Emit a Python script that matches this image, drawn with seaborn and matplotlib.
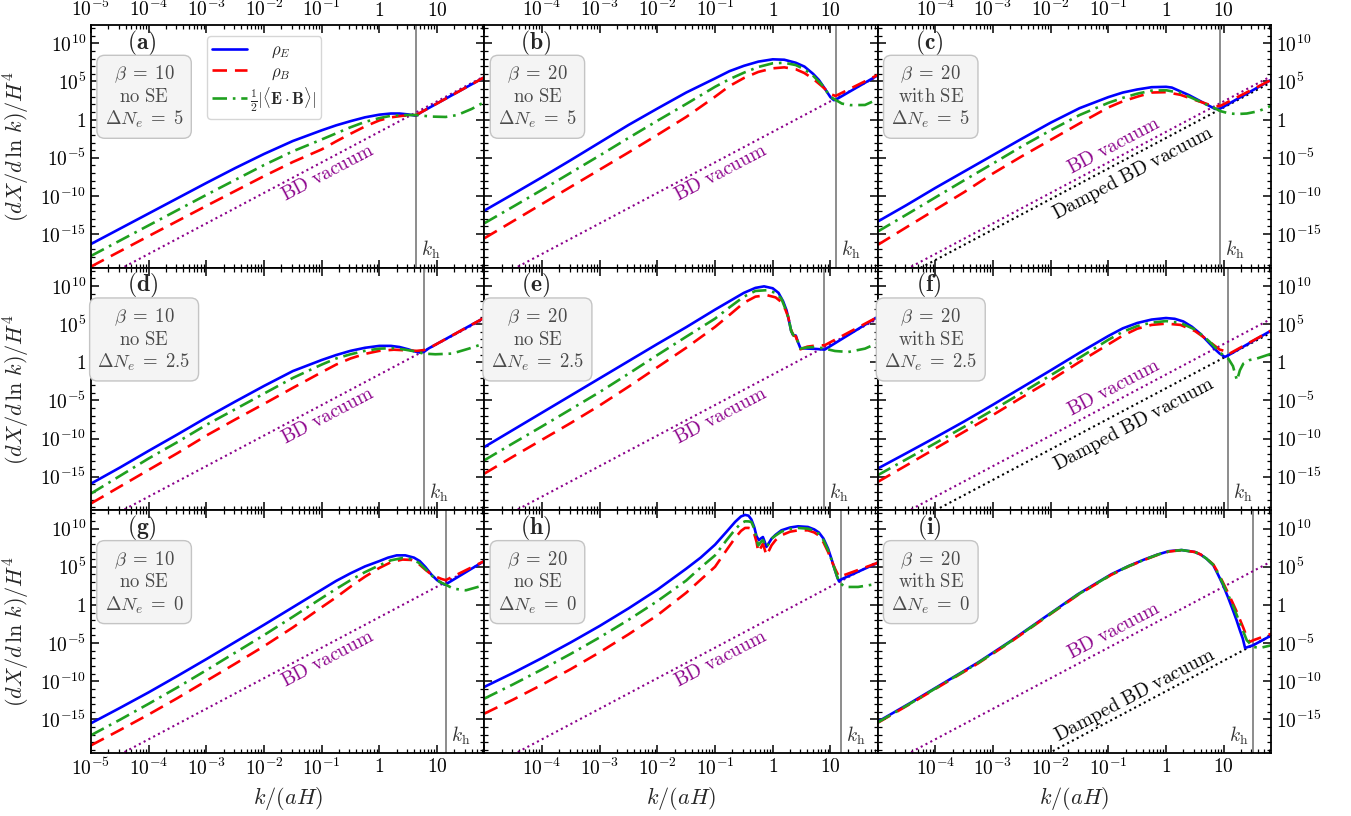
import numpy as np
import matplotlib
matplotlib.use("Agg")
import matplotlib.pyplot as plt
import matplotlib.ticker as mticker
import pandas as pd
import seaborn as sns

# Spectra as (log10 k/(aH), log10 (dX/dlnk)/H^4) pairs, one list per curve and panel.
rhoE_a = [(-5, -16.3), (-4, -12.3), (-3, -8.3), (-2.5, -6.35), (-2, -4.5), (-1.5, -2.8), (-1, -1.4),
          (-0.75, -0.75), (-0.5, -0.2), (-0.25, 0.3), (0, 0.65), (0.2, 0.8), (0.35, 0.8), (0.5, 0.68),
          (0.6, 0.55), (0.64, 0.52), (0.72, 0.95), (1.82, 5.55)]
rhoB_a = [(-5, -19.26), (-4, -15.26), (-3, -11.3), (-2.5, -9.35), (-2, -7.4), (-1.5, -5.55), (-1, -3.9),
          (-0.75, -2.85), (-0.5, -1.85), (-0.25, -0.9), (0, -0.1), (0.2, 0.3), (0.4, 0.5), (0.64, 0.6),
          (0.72, 0.95), (1.82, 5.55)]
EB_a = [(-5, -17.86), (-4, -13.86), (-3, -9.86), (-2.5, -7.9), (-2, -5.95), (-1.5, -4.15), (-1, -2.6),
        (-0.75, -1.8), (-0.5, -1.0), (-0.25, -0.3), (0, 0.2), (0.2, 0.5), (0.4, 0.6), (0.64, 0.6),
        (0.9, 0.4), (1.15, 0.35), (1.35, 0.6), (1.6, 1.4), (1.82, 2.3)]

rhoE_b = [(-5, -11.92), (-4.5, -9.75), (-4, -7.55), (-3.5, -5.3), (-3, -3.0), (-2.5, -0.7), (-2, 1.45),
          (-1.5, 3.55), (-1, 5.4), (-0.75, 6.35), (-0.5, 7.05), (-0.25, 7.6), (0, 7.9), (0.2, 7.85),
          (0.4, 7.45), (0.55, 6.95), (0.7, 6.0), (0.8, 5.2), (0.9, 4.1), (1.0, 2.95), (1.06, 2.55),
          (1.09, 2.6), (1.82, 5.8)]
rhoB_b = [(-5, -15.55), (-4.5, -13.3), (-4, -11.05), (-3.5, -8.8), (-3, -6.55), (-2.5, -4.3),
          (-2, -2.0), (-1.5, 0.35), (-1, 3.0), (-0.75, 4.4), (-0.5, 5.45), (-0.25, 6.25), (0, 6.72),
          (0.2, 6.85), (0.4, 6.6), (0.55, 6.1), (0.7, 5.35), (0.85, 4.4), (1.0, 3.35), (1.09, 3.1),
          (1.82, 5.85)]
EB_b = [(-5, -13.58), (-4.5, -11.4), (-4, -9.2), (-3.5, -6.95), (-3, -4.7), (-2.5, -2.4), (-2, -0.15),
        (-1.5, 2.05), (-1, 4.3), (-0.75, 5.3), (-0.5, 6.15), (-0.25, 6.9), (0, 7.38), (0.2, 7.45),
        (0.4, 7.15), (0.55, 6.6), (0.7, 5.75), (0.85, 4.6), (1.0, 3.0), (1.09, 2.58), (1.2, 2.1),
        (1.35, 1.9), (1.6, 1.92), (1.83, 2.7)]

rhoE_c = [(-5, -13.36), (-4.5, -11.2), (-4, -8.95), (-3.5, -6.8), (-3, -4.65), (-2.5, -2.5),
          (-2, -0.4), (-1.5, 1.5), (-1, 2.95), (-0.75, 3.55), (-0.5, 3.95), (-0.25, 4.25), (0, 4.3),
          (0.1, 4.2), (0.25, 3.7), (0.4, 3.2), (0.55, 2.6), (0.7, 2.0), (0.85, 1.4), (0.94, 1.45),
          (1.82, 5.2)]
rhoB_c = [(-5, -16.42), (-4.5, -14.1), (-4, -11.8), (-3.5, -9.5), (-3, -7.05), (-2.5, -4.8),
          (-2, -2.65), (-1.5, -0.5), (-1, 1.6), (-0.75, 2.4), (-0.5, 3.0), (-0.25, 3.55), (0, 3.6),
          (0.25, 3.25), (0.55, 2.45), (0.75, 1.95), (0.87, 1.75), (0.94, 1.8), (1.82, 5.2)]
EB_c = [(-5, -14.67), (-4.5, -12.45), (-4, -10.2), (-3.5, -7.95), (-3, -5.75), (-2.5, -3.5),
        (-2, -1.4), (-1.5, 0.6), (-1, 2.2), (-0.75, 2.85), (-0.5, 3.4), (-0.25, 3.8), (0, 3.85),
        (0.25, 3.5), (0.55, 2.5), (0.75, 1.8), (0.87, 1.4), (0.95, 1.1), (1.1, 0.8), (1.25, 0.74),
        (1.4, 0.8), (1.6, 1.1), (1.82, 1.8)]

rhoE_d = [(-5, -15.9), (-4.5, -13.8), (-4, -11.6), (-3.5, -9.45), (-3, -7.25), (-2.5, -5.15),
          (-2, -3.1), (-1.5, -1.15), (-1, 0.3), (-0.75, 0.95), (-0.5, 1.5), (-0.25, 1.9), (0, 2.15),
          (0.2, 2.15), (0.35, 2.0), (0.5, 1.7), (0.6, 1.45), (0.7, 1.28), (0.77, 1.35), (0.85, 1.8),
          (1.81, 5.8)]
rhoB_d = [(-5, -18.5), (-4.5, -16.3), (-4, -14.1), (-3.5, -11.9), (-3, -9.6), (-2.5, -7.5),
          (-2, -5.45), (-1.5, -3.35), (-1, -1.3), (-0.75, -0.3), (-0.5, 0.5), (-0.25, 1.1), (0, 1.5),
          (0.25, 1.65), (0.5, 1.55), (0.65, 1.5), (0.77, 1.6), (0.85, 1.8), (1.81, 5.8)]
EB_d = [(-5, -17.2), (-4.5, -14.9), (-4, -12.6), (-3.5, -10.45), (-3, -8.2), (-2.5, -6.15),
        (-2, -4.1), (-1.5, -2.05), (-1, -0.3), (-0.75, 0.5), (-0.5, 1.05), (-0.25, 1.5), (0, 1.79),
        (0.25, 1.85), (0.45, 1.65), (0.6, 1.45), (0.77, 1.14), (0.97, 1.05), (1.26, 1.14),
        (1.55, 1.79), (1.81, 2.45)]

rhoE_e = [(-5, -11.1), (-4, -6.6), (-3, -2.1), (-2, 2.4), (-1.5, 4.6), (-1, 6.9), (-0.75, 8.0),
          (-0.5, 9.1), (-0.3, 9.75), (-0.15, 9.95), (0, 9.7), (0.1, 9.1), (0.18, 8.0), (0.24, 6.8),
          (0.28, 5.5), (0.32, 4.1), (0.35, 3.6), (0.4, 3.5), (0.44, 2.6), (0.48, 1.85), (0.6, 1.8),
          (0.75, 1.75), (0.9, 1.66), (1.82, 5.94)]
rhoB_e = [(-5, -14.59), (-4.5, -12.35), (-4, -10.15), (-3.5, -7.95), (-3, -5.65), (-2.5, -3.2),
          (-2, -0.65), (-1.5, 1.9), (-1, 4.63), (-0.75, 6.2), (-0.5, 7.8), (-0.3, 8.6), (-0.1, 8.8),
          (0.05, 8.5), (0.15, 7.9), (0.22, 6.9), (0.27, 5.9), (0.32, 4.2), (0.36, 3.5), (0.4, 3.4),
          (0.44, 2.5), (0.48, 1.7), (0.6, 2.05), (0.75, 2.2), (0.9, 2.23), (1.82, 5.94)]
EB_e = [(-5, -12.84), (-4.5, -10.6), (-4, -8.4), (-3.5, -6.15), (-3, -3.9), (-2.5, -1.5),
        (-2, 0.95), (-1.5, 3.35), (-1, 5.72), (-0.75, 7.2), (-0.5, 8.6), (-0.3, 9.35), (-0.1, 9.45),
        (0.05, 9.1), (0.15, 8.34), (0.22, 7.0), (0.27, 5.94), (0.32, 4.1), (0.36, 3.54), (0.4, 3.45),
        (0.44, 2.6), (0.48, 1.8), (0.6, 1.95), (0.75, 2.0), (0.9, 1.79), (1.08, 1.48), (1.31, 1.35),
        (1.6, 1.79), (1.82, 2.53)]

rhoE_f = [(-5, -13.93), (-4.5, -11.9), (-4, -9.85), (-3.5, -7.75), (-3, -5.55), (-2.5, -3.3),
          (-2, -1.05), (-1.5, 1.25), (-1, 3.45), (-0.75, 4.45), (-0.5, 5.15), (-0.25, 5.6), (0, 5.8),
          (0.15, 5.7), (0.3, 5.35), (0.45, 4.65), (0.6, 3.7), (0.75, 2.5), (0.85, 1.7), (0.93, 1.14),
          (1.02, 0.7), (1.08, 0.92), (1.83, 4.19)]
rhoB_f = [(-5, -15.68), (-4.5, -13.5), (-4, -11.3), (-3.5, -9.1), (-3, -6.9), (-2.5, -4.6),
          (-2, -2.35), (-1.5, 0.05), (-1, 2.35), (-0.75, 3.5), (-0.5, 4.4), (-0.25, 4.9), (0, 5.07),
          (0.25, 4.9), (0.5, 4.1), (0.65, 3.3), (0.76, 2.66), (0.93, 1.66), (1.02, 1.48), (1.08, 1.05),
          (1.83, 4.19)]
EB_f = [(-5, -14.8), (-4.5, -12.7), (-4, -10.6), (-3.5, -8.45), (-3, -6.25), (-2.5, -4.0),
        (-2, -1.7), (-1.5, 0.6), (-1, 2.95), (-0.75, 4.0), (-0.5, 4.75), (-0.25, 5.2), (0, 5.4),
        (0.25, 5.15), (0.5, 4.3), (0.65, 3.4), (0.76, 2.66), (0.93, 1.35), (1.02, 0.7), (1.08, 0.48),
        (1.16, -0.5), (1.2, -1.6), (1.23, -2.36), (1.28, -1.05), (1.34, -0.17), (1.45, 0.3),
        (1.57, 0.48), (1.83, 1.14)]

rhoE_g = [(-5, -15.5), (-4.5, -13.5), (-4, -11.45), (-3.5, -9.3), (-3, -7.1), (-2.5, -4.85), (-2, -2.6),
          (-1.5, -0.3), (-1, 2.0), (-0.75, 3.15), (-0.5, 4.15), (-0.25, 5.05), (0, 5.75), (0.15, 6.2),
          (0.3, 6.5), (0.45, 6.5), (0.6, 6.2), (0.7, 5.75), (0.8, 4.95), (0.9, 4.0), (1.0, 3.25),
          (1.08, 2.85), (1.13, 2.66), (1.15, 2.7), (1.81, 5.72)]
rhoB_g = [(-5, -18.4), (-4.5, -16.4), (-4, -14.35), (-3.5, -12.2), (-3, -9.95), (-2.5, -7.7),
          (-2, -5.4), (-1.5, -2.95), (-1, -0.3), (-0.75, 1.0), (-0.5, 2.4), (-0.25, 3.7), (0, 4.85),
          (0.2, 5.6), (0.4, 5.95), (0.55, 5.9), (0.68, 5.4), (0.8, 4.6), (0.9, 4.0), (1.0, 3.65),
          (1.08, 3.4), (1.15, 3.25), (1.81, 5.72)]
EB_g = [(-5, -17.07), (-4.5, -15.05), (-4, -12.95), (-3.5, -10.8), (-3, -8.55), (-2.5, -6.25),
        (-2, -3.95), (-1.5, -1.55), (-1, 0.9), (-0.75, 2.1), (-0.5, 3.25), (-0.25, 4.3), (0, 5.2),
        (0.2, 5.85), (0.4, 6.15), (0.55, 6.0), (0.68, 5.55), (0.8, 4.7), (0.9, 3.9), (1.0, 3.25),
        (1.08, 2.9), (1.15, 2.66), (1.28, 2.14), (1.5, 1.92), (1.81, 2.58)]

rhoE_h = [(-5, -10.74), (-4.5, -8.9), (-4, -6.95), (-3.5, -4.9), (-3, -2.75), (-2.5, -0.45), (-2, 2.0),
          (-1.5, 4.75), (-1.25, 6.2), (-1, 7.9), (-0.8, 9.6), (-0.65, 10.9), (-0.55, 11.6),
          (-0.48, 11.8), (-0.42, 11.7), (-0.37, 11.2), (-0.32, 10.2), (-0.28, 9.0), (-0.24, 8.5),
          (-0.2, 8.75), (-0.17, 8.9), (-0.14, 8.3), (-0.11, 7.6), (-0.06, 8.2), (-0.02, 8.69),
          (0.05, 9.2), (0.15, 9.78), (0.3, 10.15), (0.44, 10.31), (0.61, 10.22), (0.72, 9.9),
          (0.8, 9.5), (0.88, 8.7), (0.96, 7.38), (1.02, 6.0), (1.08, 4.54), (1.12, 3.6), (1.15, 3.1),
          (1.19, 3.36), (1.83, 5.55)]
rhoB_h = [(-5, -14.24), (-4.5, -12.4), (-4, -10.45), (-3.5, -8.4), (-3, -6.2), (-2.5, -3.85),
          (-2, -1.35), (-1.5, 1.6), (-1.25, 3.3), (-1, 5.0), (-0.8, 7.2), (-0.65, 8.8), (-0.55, 9.7),
          (-0.48, 10.09), (-0.42, 10.1), (-0.37, 10.0), (-0.32, 9.3), (-0.28, 8.25), (-0.25, 6.94),
          (-0.2, 7.6), (-0.17, 8.03), (-0.14, 7.3), (-0.11, 6.5), (-0.06, 7.2), (-0.02, 7.82),
          (0.05, 8.5), (0.15, 9.13), (0.3, 9.6), (0.44, 9.78), (0.61, 9.78), (0.72, 9.5), (0.8, 9.1),
          (0.88, 8.2), (0.96, 6.94), (1.02, 5.8), (1.08, 4.76), (1.15, 3.67), (1.83, 5.55)]
EB_h = [(-5, -12.27), (-4.5, -10.4), (-4, -8.45), (-3.5, -6.4), (-3, -4.25), (-2.5, -1.95),
        (-2, 0.5), (-1.5, 3.2), (-1.25, 4.9), (-1, 6.5), (-0.8, 8.5), (-0.65, 9.9), (-0.55, 10.7),
        (-0.48, 10.96), (-0.42, 10.95), (-0.37, 10.87), (-0.32, 10.0), (-0.28, 8.69), (-0.25, 7.8),
        (-0.2, 8.3), (-0.17, 8.5), (-0.14, 8.0), (-0.11, 7.6), (-0.06, 8.1), (-0.02, 8.69),
        (0.05, 9.1), (0.15, 9.6), (0.3, 9.95), (0.44, 10.09), (0.61, 10.0), (0.72, 9.75), (0.8, 9.3),
        (0.88, 8.5), (0.96, 7.16), (1.02, 5.9), (1.08, 4.54), (1.15, 3.0), (1.25, 2.36), (1.48, 2.36),
        (1.83, 2.79)]

rhoE_i = [(-5, -15.31), (-4.42, -12.78), (-3.84, -10.16), (-3.26, -7.54), (-2.69, -4.71),
          (-2.11, -1.65), (-1.53, 1.4), (-0.95, 4.02), (-0.65, 5.1), (-0.37, 5.98), (-0.15, 6.6),
          (0.05, 7.05), (0.27, 7.2), (0.5, 6.94), (0.6, 6.6), (0.7, 6.07), (0.82, 5.2), (0.9, 4.0),
          (0.99, 2.58), (1.08, 0.9), (1.16, -0.7), (1.22, -1.95), (1.28, -3.32), (1.33, -4.4),
          (1.37, -5.63), (1.51, -5.28), (1.83, -3.97)]
rhoB_i = [(-5, -15.45), (-4.42, -12.9), (-3.84, -10.28), (-3.26, -7.66), (-2.69, -4.82),
          (-2.11, -1.75), (-1.53, 1.3), (-0.95, 3.94), (-0.65, 5.05), (-0.37, 5.92), (-0.15, 6.55),
          (0.05, 7.0), (0.27, 7.18), (0.5, 6.94), (0.6, 6.62), (0.7, 6.1), (0.82, 5.3), (0.9, 4.25),
          (0.99, 2.9), (1.08, 1.5), (1.16, 0.2), (1.22, -0.8), (1.28, -1.9), (1.34, -3.0),
          (1.4, -4.19), (1.45, -4.85), (1.51, -4.63), (1.83, -3.76)]
EB_i = [(-5, -15.4), (-4.42, -12.85), (-3.84, -10.22), (-3.26, -7.6), (-2.69, -4.77), (-2.11, -1.7),
        (-1.53, 1.35), (-0.95, 3.98), (-0.65, 5.08), (-0.37, 5.95), (-0.15, 6.58), (0.05, 7.02),
        (0.27, 7.19), (0.5, 6.94), (0.6, 6.61), (0.7, 6.08), (0.82, 5.25), (0.9, 4.15), (0.99, 2.75),
        (1.08, 1.25), (1.16, -0.1), (1.22, -1.2), (1.28, -2.4), (1.34, -3.5), (1.4, -4.63),
        (1.51, -5.5), (1.63, -5.63), (1.83, -5.28)]

# Bunch-Davies vacuum and damped vacuum lines (log10 endpoints)
bd_vacuum = [(-5, -21.6), (1.9, 6.0)]
damped_c = [(-5, -22.4), (1.9, 5.2)]
damped_f = [(-5, -23.4), (1.9, 4.2)]
damped_i = [(-5, -31.3), (1.9, -3.7)]

# Horizon-crossing scale k_h for each panel
kh_values = [4.4, 12.3, 8.7, 5.9, 7.9, 12.0, 14.1, 15.1, 32.0]

# Panel parameters: beta, Schwinger effect, Delta N_e
betas = [10, 20, 20, 10, 20, 20, 10, 20, 20]
with_se = [False, False, True, False, False, True, False, False, True]
delta_ne = ["5", "5", "5", "2.5", "2.5", "2.5", "0", "0", "0"]
letters = ["a", "b", "c", "d", "e", "f", "g", "h", "i"]

curves_E = [rhoE_a, rhoE_b, rhoE_c, rhoE_d, rhoE_e, rhoE_f, rhoE_g, rhoE_h, rhoE_i]
curves_B = [rhoB_a, rhoB_b, rhoB_c, rhoB_d, rhoB_e, rhoB_f, rhoB_g, rhoB_h, rhoB_i]
curves_EB = [EB_a, EB_b, EB_c, EB_d, EB_e, EB_f, EB_g, EB_h, EB_i]
damped = {"c": damped_c, "f": damped_f, "i": damped_i}

sns.set_theme(style="ticks")
plt.rcParams["font.family"] = ["DejaVu Serif"]
plt.rcParams["mathtext.fontset"] = "cm"
plt.rcParams["axes.linewidth"] = 1.3

C_E, C_B, C_EB = "#0000ff", "#ff0000", "#1fa01f"
C_BD = "#8b008b"
LS_B = (0, (5.5, 3))
LS_EB = (0, (5.5, 2.2, 1, 2.2))
LS_DOT = (0, (1, 1.6))

XMIN, XMAX = 1e-5, 66.0
YMIN, YMAX = 10 ** -19.4, 10 ** 12.4

fig = plt.figure(figsize=(13.51, 8.16), dpi=100)
axes = fig.subplots(3, 3)
fig.subplots_adjust(left=91 / 1351, right=1271 / 1351, top=1 - 25 / 816, bottom=1 - 753 / 816,
                    wspace=0, hspace=0)


def to_frame(pts):
    arr = np.array(pts, dtype=float)
    return pd.DataFrame({"k": 10 ** arr[:, 0], "y": 10 ** arr[:, 1]})


def draw(ax, pts, **kw):
    sns.lineplot(data=to_frame(pts), x="k", y="y", ax=ax, estimator=None, sort=False,
                 legend=False, **kw)


def log_label(v, pos, hide_first=False):
    e = int(round(np.log10(v)))
    if hide_first and e == -5:
        return ""
    if e == 0:
        return "$1$"
    if e == 1:
        return "$10$"
    return "$10^{%d}$" % e


for idx, ax in enumerate(axes.flat):
    r, c = divmod(idx, 3)
    L = letters[idx]
    kh = kh_values[idx]
    ax.set_xscale("log")
    ax.set_yscale("log")

    ax.axvline(kh, color="#8c8c8c", lw=1.4, zorder=1)
    draw(ax, bd_vacuum, color=C_BD, lw=1.5, linestyle=LS_DOT)
    if L in damped:
        draw(ax, damped[L], color="black", lw=1.5, linestyle=LS_DOT)

    draw(ax, curves_E[idx], color=C_E, lw=1.9, linestyle="-")
    draw(ax, curves_B[idx], color=C_B, lw=1.9, linestyle=LS_B)
    draw(ax, curves_EB[idx], color=C_EB, lw=1.9, linestyle=LS_EB)

    ax.set_xlim(XMIN, XMAX)
    ax.set_ylim(YMIN, YMAX)

    # ticks
    ax.xaxis.set_major_locator(mticker.FixedLocator(10.0 ** np.arange(-5, 2)))
    ax.xaxis.set_minor_locator(mticker.LogLocator(base=10, subs=np.arange(2, 10), numticks=100))
    ax.xaxis.set_minor_formatter(mticker.NullFormatter())
    ax.xaxis.set_major_formatter(mticker.FuncFormatter(
        lambda v, p, h=(c > 0): log_label(v, p, hide_first=h)))
    ax.yaxis.set_major_locator(mticker.FixedLocator(10.0 ** np.arange(-15, 11, 5)))
    ax.yaxis.set_minor_locator(mticker.FixedLocator(
        [10.0 ** e for e in range(-19, 13) if e % 5 != 0]))
    ax.yaxis.set_minor_formatter(mticker.NullFormatter())
    ax.yaxis.set_major_formatter(mticker.FuncFormatter(log_label))
    ax.tick_params(which="both", direction="in", top=True, right=True, bottom=True, left=True,
                   labelsize=14, colors="black")
    ax.tick_params(which="major", length=5.5, width=1.1)
    ax.tick_params(which="minor", length=3, width=0.9)
    ax.tick_params(labelbottom=(r == 2), labeltop=(r == 0), labelleft=(c == 0), labelright=(c == 2))

    ax.set_xlabel(r"$k/(aH)$" if r == 2 else "", fontsize=16)
    ax.set_ylabel(r"$(dX/d\,\ln\,k)/H^4$" if c == 0 else "", fontsize=16, labelpad=6)
    for sp in ax.spines.values():
        sp.set_linewidth(1.3)
        sp.set_color("black")

    # panel tag and parameter box
    ax.text(0.13, 0.926, r"$\mathbf{(%s)}$" % L, transform=ax.transAxes, ha="center", va="center",
            fontsize=17)
    se = r"\mathrm{with\ SE}" if with_se[idx] else r"\mathrm{no\ SE}"
    ax.text(0.135, 0.703,
            "$\\beta\\;=\\;%d$\n$%s$\n$\\Delta N_e\\;=\\;%s$" % (betas[idx], se, delta_ne[idx]),
            transform=ax.transAxes, ha="center", va="center", multialignment="center",
            fontsize=13.5, color="#4a4a4a", linespacing=1.2,
            bbox=dict(boxstyle="round,pad=0.42", fc="#f4f4f4", ec="#c4c4c4", lw=1))

    # k_h marker
    if c == 2 and r == 2:
        ax.text(kh / 1.2, 0.072, r"$k_\mathrm{h}$", transform=ax.get_xaxis_transform(),
                ha="right", va="center", fontsize=14, color="#333333")
    else:
        ax.text(kh * 1.22, 0.072, r"$k_\mathrm{h}$", transform=ax.get_xaxis_transform(),
                ha="left", va="center", fontsize=14, color="#333333")

    # rotation of a k^4 line on screen
    p0 = ax.transData.transform((1e-3, 1e-12))
    p1 = ax.transData.transform((1e-2, 1e-8))
    ang = np.degrees(np.arctan2(p1[1] - p0[1], p1[0] - p0[0]))
    if with_se[idx]:
        ax.text(10 ** -0.91, 10 ** -3.4, r"$\mathrm{BD\ vacuum}$", color=C_BD, fontsize=14,
                rotation=ang, rotation_mode="anchor", ha="center", va="center")
        dpos = {"c": (-0.58, -7.0), "f": (-0.55, -8.1), "i": (-0.54, -11.9)}[L]
        ax.text(10 ** dpos[0], 10 ** dpos[1], r"$\mathrm{Damped\ BD\ vacuum}$", color="black",
                fontsize=14, rotation=ang, rotation_mode="anchor", ha="center", va="center")
    else:
        ax.text(10 ** -0.9, 10 ** -7.0, r"$\mathrm{BD\ vacuum}$", color=C_BD, fontsize=14,
                rotation=ang, rotation_mode="anchor", ha="center", va="center")

# legend in the first panel
ax0 = axes[0, 0]
handles = [
    plt.Line2D([], [], color=C_E, lw=1.9, linestyle="-"),
    plt.Line2D([], [], color=C_B, lw=1.9, linestyle=LS_B),
    plt.Line2D([], [], color=C_EB, lw=1.9, linestyle=LS_EB),
]
labels = [r"$\quad\;\,\rho_E$", r"$\quad\;\,\rho_B$",
          r"$\frac{1}{2}|\langle\mathbf{E}\cdot\mathbf{B}\rangle|$"]
ax0.legend(handles, labels, loc="upper left", bbox_to_anchor=(0.296, 0.953), fontsize=12,
           handlelength=2.1, handletextpad=0.15, borderpad=0.3, borderaxespad=0, labelspacing=0.22,
           frameon=True, fancybox=True, framealpha=0.8, edgecolor="#cccccc")

fig.savefig("out.png", dpi=100)
